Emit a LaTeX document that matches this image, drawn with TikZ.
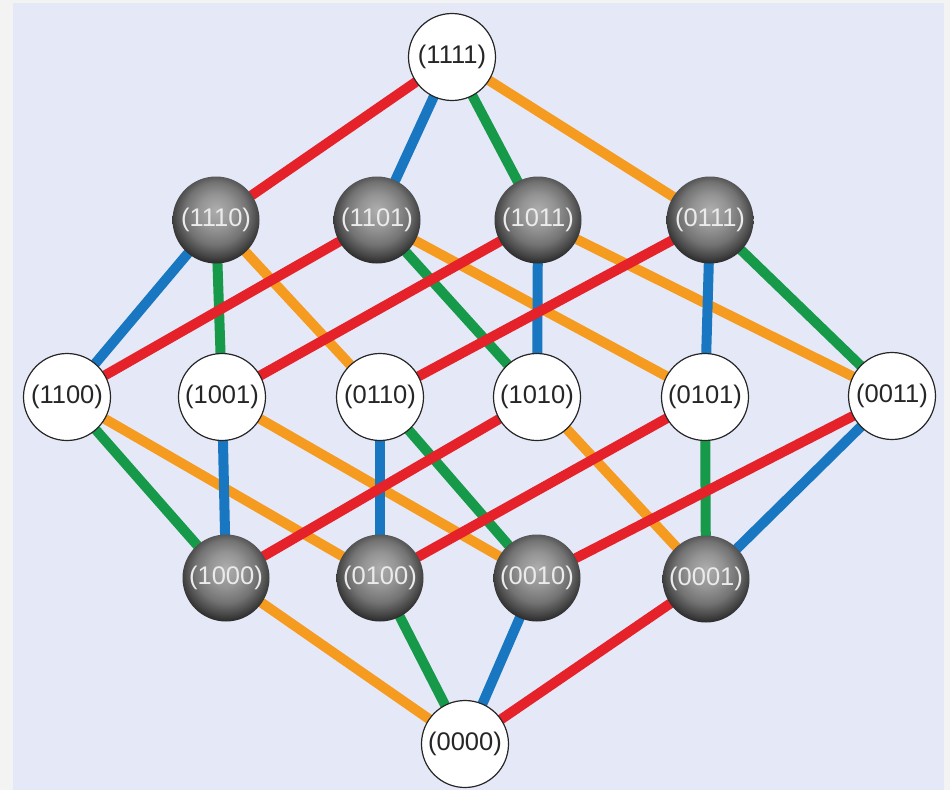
\documentclass[tikz,border=0pt]{standalone}
\usepackage{fontspec}
\setmainfont{Liberation Sans}
\pgfdeclarelayer{back}
\pgfdeclarelayer{edges}
\pgfsetlayers{back,edges,main}
\definecolor{bgl}{HTML}{E5E8F6}
\definecolor{bgo}{HTML}{F3F3F3}
\definecolor{ered}{HTML}{E52129}
\definecolor{eblue}{HTML}{1877C0}
\definecolor{egreen}{HTML}{17994A}
\definecolor{eorange}{HTML}{F49B20}
\pgfdeclareradialshading{sph}{\pgfpoint{0bp}{6bp}}{color(0bp)=(black!32); color(10bp)=(black!42); color(18bp)=(black!55); color(24bp)=(black!72); color(29bp)=(black!88); color(34bp)=(black!96); color(50bp)=(black)}
\tikzset{
  lightnode/.style={circle, draw=black!85, line width=1.2pt, fill=white, minimum size=87pt, inner sep=0pt, font=\fontsize{25.5}{26}\selectfont, text=black!85},
  darknode/.style={circle, shading=sph, minimum size=87pt, inner sep=0pt, font=\fontsize{25.5}{26}\selectfont, text=white!92!black},
  edge/.style={line width=10pt, line cap=round},
  r/.style={edge, draw=ered},
  b/.style={edge, draw=eblue},
  g/.style={edge, draw=egreen},
  o/.style={edge, draw=eorange}
}
\begin{document}
\begin{tikzpicture}[x=1pt,y=-1pt]
\useasboundingbox (0,0) rectangle (950,790);
\begin{pgfonlayer}{back}
\fill[bgo] (0,0) rectangle (950,790);
\fill[bgl] (13,3) rectangle (944,790);
\end{pgfonlayer}
% nodes
\node[lightnode] (n1111) at (452,57) {(1111)};
\node[darknode] (n1110) at (216,220) {(1110)};
\node[darknode] (n1101) at (377,220) {(1101)};
\node[darknode] (n1011) at (538,220) {(1011)};
\node[darknode] (n0111) at (710,220) {(0111)};
\node[lightnode] (n1100) at (67,397) {(1100)};
\node[lightnode] (n1001) at (222,397) {(1001)};
\node[lightnode] (n0110) at (380,397) {(0110)};
\node[lightnode] (n1010) at (537,397) {(1010)};
\node[lightnode] (n0101) at (705,397) {(0101)};
\node[lightnode] (n0011) at (892,396) {(0011)};
\node[darknode] (n1000) at (226,578) {(1000)};
\node[darknode] (n0100) at (380,578) {(0100)};
\node[darknode] (n0010) at (537,578) {(0010)};
\node[darknode] (n0001) at (706,579) {(0001)};
\node[lightnode] (n0000) at (465,744) {(0000)};
\begin{pgfonlayer}{edges}
\draw[r] (n1111) -- (n1110);
\draw[b] (n1111) -- (n1101);
\draw[g] (n1111) -- (n1011);
\draw[o] (n1111) -- (n0111);
\draw[b] (n1110) -- (n1100);
\draw[g] (n1110) -- (n1001);
\draw[o] (n1110) -- (n0110);
\draw[r] (n1101) -- (n1100);
\draw[g] (n1101) -- (n1010);
\draw[o] (n1101) -- (n0101);
\draw[r] (n1011) -- (n1001);
\draw[b] (n1011) -- (n1010);
\draw[o] (n1011) -- (n0011);
\draw[r] (n0111) -- (n0110);
\draw[b] (n0111) -- (n0101);
\draw[g] (n0111) -- (n0011);
\draw[g] (n1100) -- (n1000);
\draw[o] (n1100) -- (n0100);
\draw[b] (n1001) -- (n1000);
\draw[o] (n1001) -- (n0010);
\draw[b] (n0110) -- (n0100);
\draw[g] (n0110) -- (n0010);
\draw[r] (n1010) -- (n1000);
\draw[o] (n1010) -- (n0001);
\draw[r] (n0101) -- (n0100);
\draw[g] (n0101) -- (n0001);
\draw[r] (n0011) -- (n0010);
\draw[b] (n0011) -- (n0001);
\draw[o] (n1000) -- (n0000);
\draw[g] (n0100) -- (n0000);
\draw[b] (n0010) -- (n0000);
\draw[r] (n0001) -- (n0000);
\end{pgfonlayer}
\end{tikzpicture}
\end{document}
